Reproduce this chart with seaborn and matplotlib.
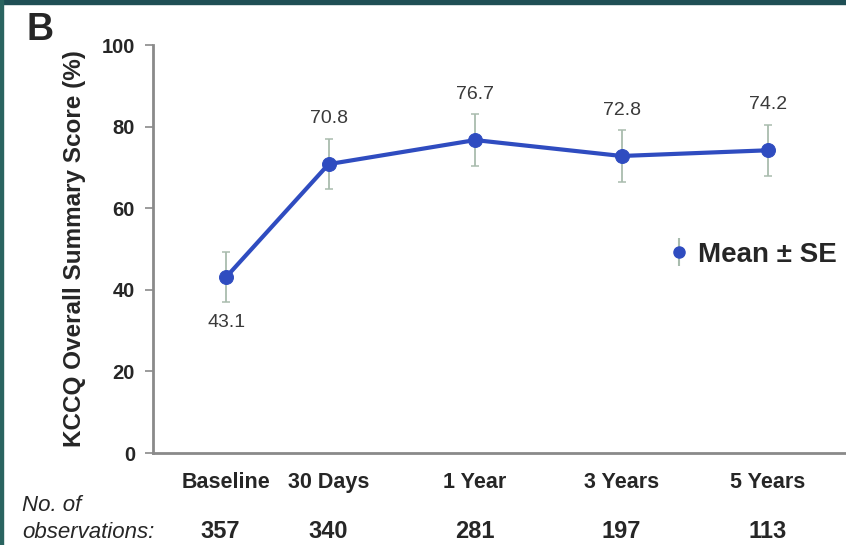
import matplotlib
matplotlib.use("Agg")
import matplotlib.pyplot as plt
import seaborn as sns
import pandas as pd
from matplotlib.patches import Rectangle

# data
timepoints = ["Baseline", "30 Days", "1 Year", "3 Years", "5 Years"]
mean_score = [43.1, 70.8, 76.7, 72.8, 74.2]
se_score = [6.2, 6.1, 6.3, 6.3, 6.2]
n_obs = [357, 340, 281, 197, 113]
y_ticks = [0, 20, 40, 60, 80, 100]

# horizontal slots of the time points (uneven in the original)
x_slots = [0, 0.7, 1.7, 2.7, 3.7]

LINE_BLUE = "#2f4cc0"
ERR_COLOR = "#a9bcae"
AXIS_GRAY = "#8a8a8a"
FONT = ["Liberation Sans", "DejaVu Sans"]


def main():
    sns.set_style("white")
    plt.rcParams["font.family"] = FONT

    df = pd.DataFrame({"x": x_slots, "score": mean_score, "se": se_score,
                       "time": timepoints})

    fig = plt.figure(figsize=(8.46, 5.45), dpi=100)
    ax = fig.add_axes([0.181, 0.1688, 0.819, 0.7486])

    # error bars first so the line sits on top
    ax.errorbar(df["x"], df["score"], yerr=df["se"], fmt="none",
                ecolor=ERR_COLOR, elinewidth=1.3, capsize=3,
                capthick=1.1, zorder=2)
    sns.lineplot(data=df, x="x", y="score", ax=ax, color=LINE_BLUE,
                 linewidth=3, marker="o", markersize=10,
                 markeredgecolor=LINE_BLUE, zorder=3)

    # value labels
    for xv, yv in zip(df["x"], df["score"]):
        off = -33 if yv < 50 else 33
        ax.annotate(f"{yv:.1f}", (xv, yv), xytext=(0, off),
                    textcoords="offset points", ha="center", va="center",
                    fontsize=14, color="#3a3a3a")

    ax.set_xlim(-0.498, 4.232)
    ax.set_ylim(0, 100)
    ax.set_yticks(y_ticks)
    ax.set_xticks(x_slots)
    ax.set_xticklabels(timepoints)
    ax.set_xlabel("")
    ax.set_ylabel("KCCQ Overall Summary Score (%)", fontsize=17.5,
                  fontweight="bold", labelpad=11)
    ax.tick_params(axis="y", length=6, width=1.2, color=AXIS_GRAY, pad=7,
                   labelsize=14.5, left=True)
    ax.tick_params(axis="x", length=0, pad=14, labelsize=15.5)
    for lab in ax.get_xticklabels() + ax.get_yticklabels():
        lab.set_fontweight("bold")
    sns.despine(ax=ax)
    for side in ["left", "bottom"]:
        ax.spines[side].set_color(AXIS_GRAY)
        ax.spines[side].set_linewidth(2)

    # legend with an error bar handle
    handle = ax.errorbar([], [], yerr=[], fmt="o", color=LINE_BLUE,
                         ecolor=ERR_COLOR, markersize=8, capsize=2)
    ax.legend([handle], ["Mean ± SE"], loc="center left",
              bbox_to_anchor=(0.794, 0.532), bbox_transform=fig.transFigure,
              frameon=False, handlelength=0.5, handletextpad=0.45,
              borderpad=0, borderaxespad=0,
              prop={"family": FONT, "weight": "bold", "size": 20})

    # panel letter
    fig.text(0.031, 0.945, "B", fontsize=27, fontweight="bold", va="center")

    # observation counts under the axis
    fig.text(0.026, 0.072, "No. of", fontsize=16, style="italic",
             va="center", ha="left")
    fig.text(0.026, 0.004, "observations:", fontsize=16, style="italic",
             va="bottom", ha="left")
    for xv, n in zip(x_slots, n_obs):
        xf = ax.transData.transform((xv, 0))[0] / fig.bbox.width
        if xv == 0:
            xf -= 0.007
        fig.text(xf, 0.004, str(n), fontsize=17, fontweight="bold",
                 ha="center", va="bottom")

    # dark teal frame edges of the screenshot
    fig.patches.append(Rectangle((0, 0.993), 1, 0.007,
                                 transform=fig.transFigure,
                                 color="#1f4f55", zorder=0))
    fig.patches.append(Rectangle((0, 0), 0.0035, 1,
                                 transform=fig.transFigure,
                                 color="#2a6460", zorder=0))

    fig.savefig("out.png", dpi=100)


if __name__ == "__main__":
    main()
